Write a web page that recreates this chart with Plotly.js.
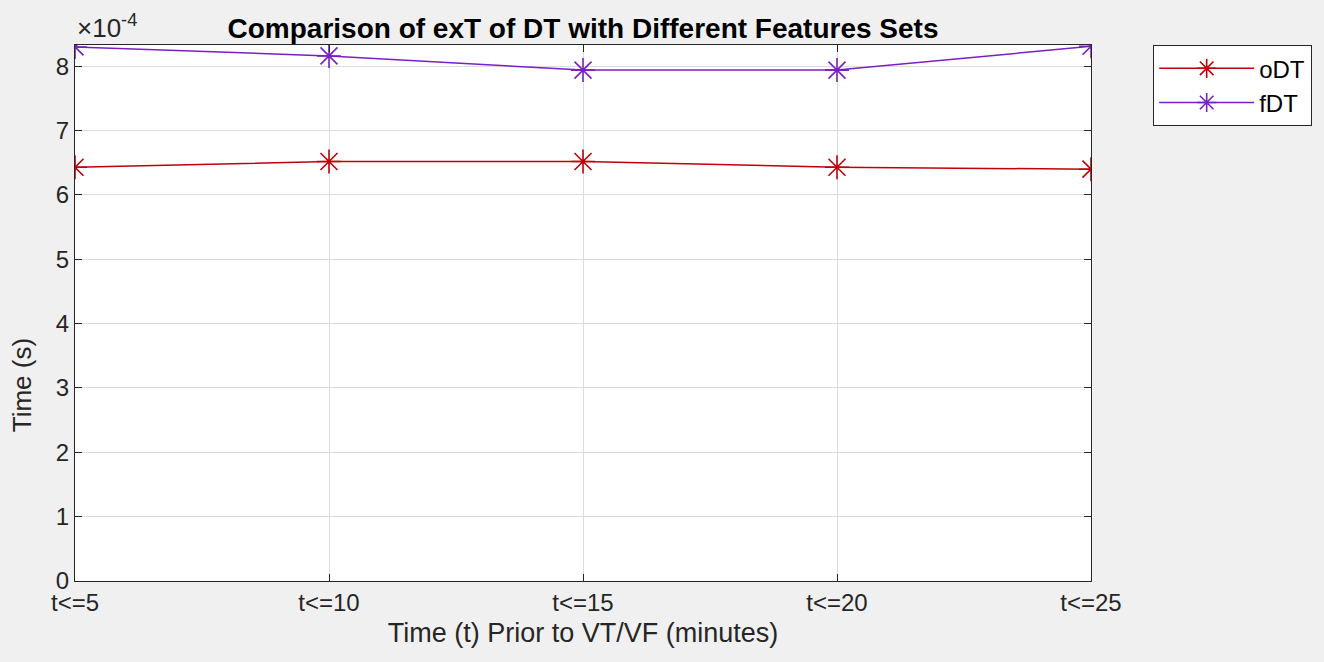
<!DOCTYPE html>
<html><head><meta charset="utf-8">
<script src="https://cdn.plot.ly/plotly-3.0.1.min.js"></script>
<style>html,body{margin:0;padding:0;background:#f0f0f0;}</style>
</head><body>
<div id="chart" style="width:1324px;height:662px;"></div>
<script>
var categories = ["t<=5", "t<=10", "t<=15", "t<=20", "t<=25"];
var oDT = [6.43e-4, 6.52e-4, 6.52e-4, 6.43e-4, 6.40e-4];
var fDT = [8.30e-4, 8.16e-4, 7.94e-4, 7.94e-4, 8.31e-4];
var yTickVals = [0, 1, 2, 3, 4, 5, 6, 7, 8];
var yExponent = -4;

var xIdx = categories.map(function(_, i){ return i; });
var scale = Math.pow(10, yExponent);

var font = "Liberation Sans, Arial, sans-serif";
function trace(name, y, color){
  return {
    x: xIdx, y: y, name: name, type: 'scatter', mode: 'lines+markers',
    line: {color: color, width: 1.5},
    marker: {symbol: 'asterisk-open', size: 20, color: color, line: {color: color, width: 1.6}}
  };
}
var data = [trace('oDT', oDT, '#c00008'), trace('fDT', fDT, '#7a1fc2')];

var layout = {
  width: 1324, height: 662,
  paper_bgcolor: '#f0f0f0', plot_bgcolor: '#ffffff',
  margin: {l: 75, r: 233, t: 45, b: 81},
  font: {family: font, size: 24, color: '#262626'},
  title: {text: '<b>Comparison of exT of DT with Different Features Sets</b>',
          font: {family: font, size: 28, color: '#000'}, x: 0.5, xanchor: 'center', xref: 'paper', y: 0.958, yanchor: 'middle'},
  xaxis: {
    range: [0, categories.length - 1],
    tickvals: xIdx, ticktext: categories,
    showgrid: true, gridcolor: '#dcdcdc', gridwidth: 1,
    showline: true, linecolor: '#262626', linewidth: 1.2, mirror: 'ticks',
    ticks: 'inside', ticklen: 7, tickcolor: '#262626',
    zeroline: false, tickfont: {size: 24},
    title: {text: 'Time (t) Prior to VT/VF (minutes)', font: {size: 27}, standoff: 8}
  },
  yaxis: {
    range: [0, 8.33e-4],
    tickvals: yTickVals.map(function(v){ return v * scale; }),
    ticktext: yTickVals.map(String),
    showgrid: true, gridcolor: '#dcdcdc', gridwidth: 1,
    showline: true, linecolor: '#262626', linewidth: 1.2, mirror: 'ticks',
    ticks: 'inside', ticklen: 7, tickcolor: '#262626',
    zeroline: false, tickfont: {size: 24}
  },
  legend: {
    x: 1.061, y: 1, xanchor: 'left', yanchor: 'top',
    bgcolor: '#ffffff', bordercolor: '#262626', borderwidth: 1.2,
    font: {size: 24, color: '#000'}, tracegroupgap: 0, itemwidth: 95
  },
  annotations: [{
    xref: 'paper', yref: 'paper', x: 0.0, y: 1.0, xanchor: 'left', yanchor: 'bottom',
    text: '×10<sup>' + yExponent + '</sup>', showarrow: false, font: {size: 26, color: '#262626'}
  }, {
    xref: 'paper', yref: 'paper', x: -0.036, y: 0.366, xanchor: 'right', yanchor: 'middle',
    text: 'Time (s)', textangle: -90, showarrow: false, font: {size: 26, color: '#262626'}
  }],
  showlegend: true
};
Plotly.newPlot('chart', data, layout, {displayModeBar: false});
</script>
</body></html>
